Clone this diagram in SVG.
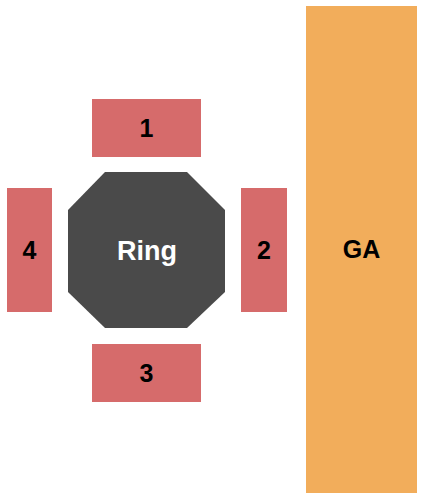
<svg xmlns="http://www.w3.org/2000/svg" width="423" height="500" viewBox="0 0 423 500">
<style>
.sec{fill:#D66B6B}
.lbl{font-family:"Liberation Sans",Arial,sans-serif;font-weight:bold;font-size:25px;fill:#000;text-anchor:middle}
</style>
<rect width="423" height="500" fill="#fff"/>
<g id="ga"><rect x="306" y="6" width="111" height="487" fill="#F2AD5B"/><text class="lbl" x="361.5" y="258">GA</text></g>
<g id="sec1"><rect class="sec" x="92" y="99" width="109" height="58"/><text class="lbl" x="146.5" y="137">1</text></g>
<g id="sec3"><rect class="sec" x="92" y="344" width="109" height="58"/><text class="lbl" x="146.5" y="382">3</text></g>
<g id="sec4"><rect class="sec" x="7" y="188" width="45" height="124"/><text class="lbl" x="29.5" y="259">4</text></g>
<g id="sec2"><rect class="sec" x="241" y="188" width="46" height="124"/><text class="lbl" x="264" y="259">2</text></g>
<g id="ring"><polygon points="105,172 187,172 225,210 225,292 187,328 105,328 68,292 68,210" fill="#4A4A4A"/><text class="lbl" x="147" y="260" style="fill:#fff;font-size:27px">Ring</text></g>
</svg>
